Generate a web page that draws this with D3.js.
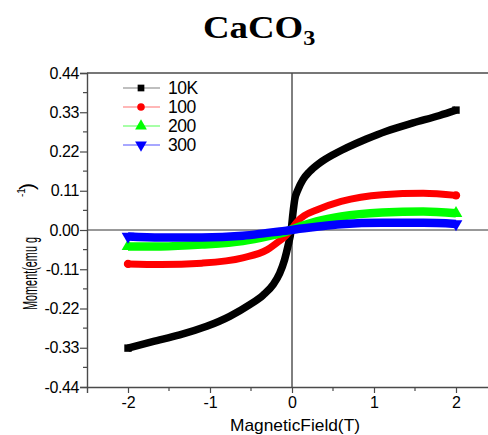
<!DOCTYPE html>
<html>
<head>
<meta charset="utf-8">
<script src="https://cdn.jsdelivr.net/npm/d3@7"></script>
<style>
  html, body { margin: 0; padding: 0; background: #fff; }
  svg { display: block; }
</style>
</head>
<body>
<svg id="chart" width="488" height="435"></svg>
<script>
// Magnetic field sweep (T) and moment (emu g^-1) for each temperature
const field10K  = [-2, -1.7, -1.37, -1.04, -0.76, -0.52, -0.35, -0.23, -0.15, -0.09, -0.05, -0.01, 0.012, 0.033, 0.073, 0.134, 0.216, 0.338, 0.5, 0.663, 0.907, 1.151, 1.476, 1.8, 2];
const moment10K = [-0.331, -0.313, -0.294, -0.27, -0.242, -0.21, -0.182, -0.153, -0.121, -0.083, -0.046, 0.0, 0.048, 0.085, 0.113, 0.141, 0.164, 0.188, 0.211, 0.23, 0.255, 0.277, 0.300, 0.321, 0.336];

const field100  = [-2, -1.6, -1.1, -0.6, -0.3, -0.15, -0.07, 0, 0.07, 0.15, 0.3, 0.6, 1.1, 1.6, 2];
const moment100 = [-0.095, -0.097, -0.093, -0.078, -0.055, -0.03, -0.015, 0.005, 0.025, 0.04, 0.056, 0.080, 0.099, 0.103, 0.097];

const field200  = [-2, -1.6, -1.1, -0.6, -0.3, -0.15, -0.07, 0, 0.07, 0.15, 0.3, 0.6, 1.1, 1.6, 2];
const moment200 = [-0.046, -0.046, -0.041, -0.031, -0.018, -0.01, -0.005, 0.002, 0.008, 0.014, 0.024, 0.038, 0.049, 0.052, 0.047];

const field300  = [-2, -1.6, -1.1, -0.6, -0.3, -0.15, -0.07, 0, 0.07, 0.15, 0.3, 0.6, 1.1, 1.6, 2];
const moment300 = [-0.018, -0.021, -0.021, -0.016, -0.008, -0.004, -0.002, 0.0, 0.003, 0.005, 0.009, 0.016, 0.020, 0.020, 0.017];

const seriesNames = ["10K", "100", "200", "300"];
const seriesColors = ["#000000", "#ff0000", "#00ff00", "#0000ff"];
const legendLineColors = ["#808080", "#ff7070", "#50ff50", "#5050ff"];
const seriesSymbols = [d3.symbolSquare, d3.symbolCircle, d3.symbolTriangle, d3.symbolTriangle];

const yTicks = [-0.44, -0.33, -0.22, -0.11, 0, 0.11, 0.22, 0.33, 0.44];
const xTicks = [-2, -1, 0, 1, 2];

const fields = [field10K, field100, field200, field300];
const moments = [moment10K, moment100, moment200, moment300];
const series = moments.map((vals, i) => ({
  name: seriesNames[i],
  color: seriesColors[i],
  points: fields[i].map((f, j) => ({ x: f, y: vals[j] }))
}));

const svg = d3.select("#chart");
const plotLeft = 87, plotRight = 497, plotTop = 73, plotBottom = 387;

const x = d3.scaleLinear().domain([-2.5, 2.5]).range([plotLeft, plotRight]);
const y = d3.scaleLinear().domain([-0.44, 0.44]).range([plotBottom, plotTop]);

const axisColor = "#4a4a4a";
const tickFont = "'Liberation Sans', Arial, sans-serif";

// Title
const title = svg.append("g").attr("transform", "translate(203,38) scale(1.15,1)");
const tt = title.append("text")
  .attr("font-family", "'Liberation Serif', 'Times New Roman', serif")
  .attr("font-weight", "bold")
  .attr("font-size", 32)
  .attr("fill", "#000");
tt.append("tspan").text("CaCO");
tt.append("tspan").attr("font-size", 21).attr("dy", 7).text("3");

// Zero reference lines
svg.append("line")
  .attr("x1", plotLeft).attr("x2", plotRight)
  .attr("y1", y(0)).attr("y2", y(0))
  .attr("stroke", "#333").attr("stroke-width", 1);
svg.append("line")
  .attr("x1", x(0)).attr("x2", x(0))
  .attr("y1", plotTop).attr("y2", plotBottom)
  .attr("stroke", "#000").attr("stroke-width", 1);

// Top frame line
svg.append("line")
  .attr("x1", plotLeft).attr("x2", plotRight)
  .attr("y1", plotTop).attr("y2", plotTop)
  .attr("stroke", axisColor).attr("stroke-width", 1.4);

// Y axis
const yAxis = d3.axisLeft(y)
  .tickValues(yTicks)
  .tickSize(7)
  .tickPadding(1)
  .tickFormat(d => d3.format(".2f")(d).replace("−", "-"));
const yg = svg.append("g").attr("transform", `translate(${plotLeft},0)`).call(yAxis);
yg.select(".domain").attr("stroke", axisColor).attr("stroke-width", 1.4);
yg.selectAll(".tick line").attr("stroke", axisColor).attr("stroke-width", 1.2);
yg.selectAll(".tick text")
  .attr("font-family", tickFont).attr("font-size", 16)
  .attr("letter-spacing", -0.4).attr("fill", "#000");
// minor y ticks
const yMinor = d3.range(-0.385, 0.44, 0.11);
yg.selectAll(".minor").data(yMinor).enter().append("line")
  .attr("x1", -4).attr("x2", 0)
  .attr("y1", d => y(d)).attr("y2", d => y(d))
  .attr("stroke", axisColor).attr("stroke-width", 1.2);

// X axis
const xAxis = d3.axisBottom(x)
  .tickValues(xTicks)
  .tickSize(6)
  .tickPadding(4)
  .tickFormat(d => String(d));
const xg = svg.append("g").attr("transform", `translate(0,${plotBottom})`).call(xAxis);
xg.select(".domain").attr("stroke", axisColor).attr("stroke-width", 1.4);
xg.selectAll(".tick line").attr("stroke", axisColor).attr("stroke-width", 1.2);
xg.selectAll(".tick text")
  .attr("font-family", tickFont).attr("font-size", 16).attr("fill", "#000");
const xMinor = [-1.5, -0.5, 0.5, 1.5];
xg.selectAll(".minor").data(xMinor).enter().append("line")
  .attr("x1", d => x(d)).attr("x2", d => x(d))
  .attr("y1", 0).attr("y2", 4)
  .attr("stroke", axisColor).attr("stroke-width", 1.2);

// Axis titles
svg.append("text")
  .attr("x", 230).attr("y", 431)
  .attr("font-family", tickFont).attr("font-size", 17)
  .attr("textLength", 130).attr("lengthAdjust", "spacingAndGlyphs")
  .attr("fill", "#000")
  .text("MagneticField(T)");

svg.append("text")
  .attr("transform", "translate(37,310) rotate(-90)")
  .attr("font-family", tickFont).attr("font-size", 21)
  .attr("textLength", 73).attr("lengthAdjust", "spacingAndGlyphs")
  .attr("fill", "#000")
  .text("Moment(emu g");
svg.append("text")
  .attr("transform", "translate(25,197) rotate(-90)")
  .attr("font-family", tickFont).attr("font-size", 10)
  .attr("fill", "#000")
  .text("-1");
svg.append("text")
  .attr("transform", "translate(34,190) rotate(-90)")
  .attr("font-family", tickFont).attr("font-size", 21)
  .attr("fill", "#000")
  .text(")");

// Curves
const line = d3.line()
  .x(d => x(d.x)).y(d => y(d.y))
  .curve(d3.curveMonotoneX);
const widths = [7.5, 7, 8.5, 8.5];

const curves = svg.append("g");
series.forEach((s, i) => {
  curves.append("path")
    .datum(s.points)
    .attr("d", line)
    .attr("fill", "none")
    .attr("stroke", s.color)
    .attr("stroke-width", widths[i])
    .attr("stroke-linecap", i === 1 ? "round" : "butt")
    .attr("stroke-linejoin", "round");
  // end markers
  const ends = [s.points[0], s.points[s.points.length - 1]];
  curves.selectAll(null).data(ends).enter().append("path")
    .attr("d", d3.symbol().type(seriesSymbols[i]).size(i >= 2 ? 70 : 55))
    .attr("transform", d => `translate(${x(d.x)},${y(d.y)})${i === 3 ? " rotate(180)" : ""}`)
    .attr("fill", s.color);
});

// Legend
const legend = svg.append("g");
series.forEach((s, i) => {
  const ly = 88 + i * 19;
  legend.append("line")
    .attr("x1", 123).attr("x2", 160)
    .attr("y1", ly).attr("y2", ly)
    .attr("stroke", legendLineColors[i]).attr("stroke-width", 1.2);
  legend.append("path")
    .attr("d", d3.symbol().type(seriesSymbols[i]).size(i >= 2 ? 60 : 45))
    .attr("transform", `translate(141,${ly})${i === 3 ? " rotate(180)" : ""}`)
    .attr("fill", s.color);
  legend.append("text")
    .attr("x", 168).attr("y", ly + 6)
    .attr("font-family", tickFont).attr("font-size", 17.5)
    .attr("letter-spacing", -0.5)
    .attr("fill", "#000")
    .text(s.name);
});
</script>
</body>
</html>
